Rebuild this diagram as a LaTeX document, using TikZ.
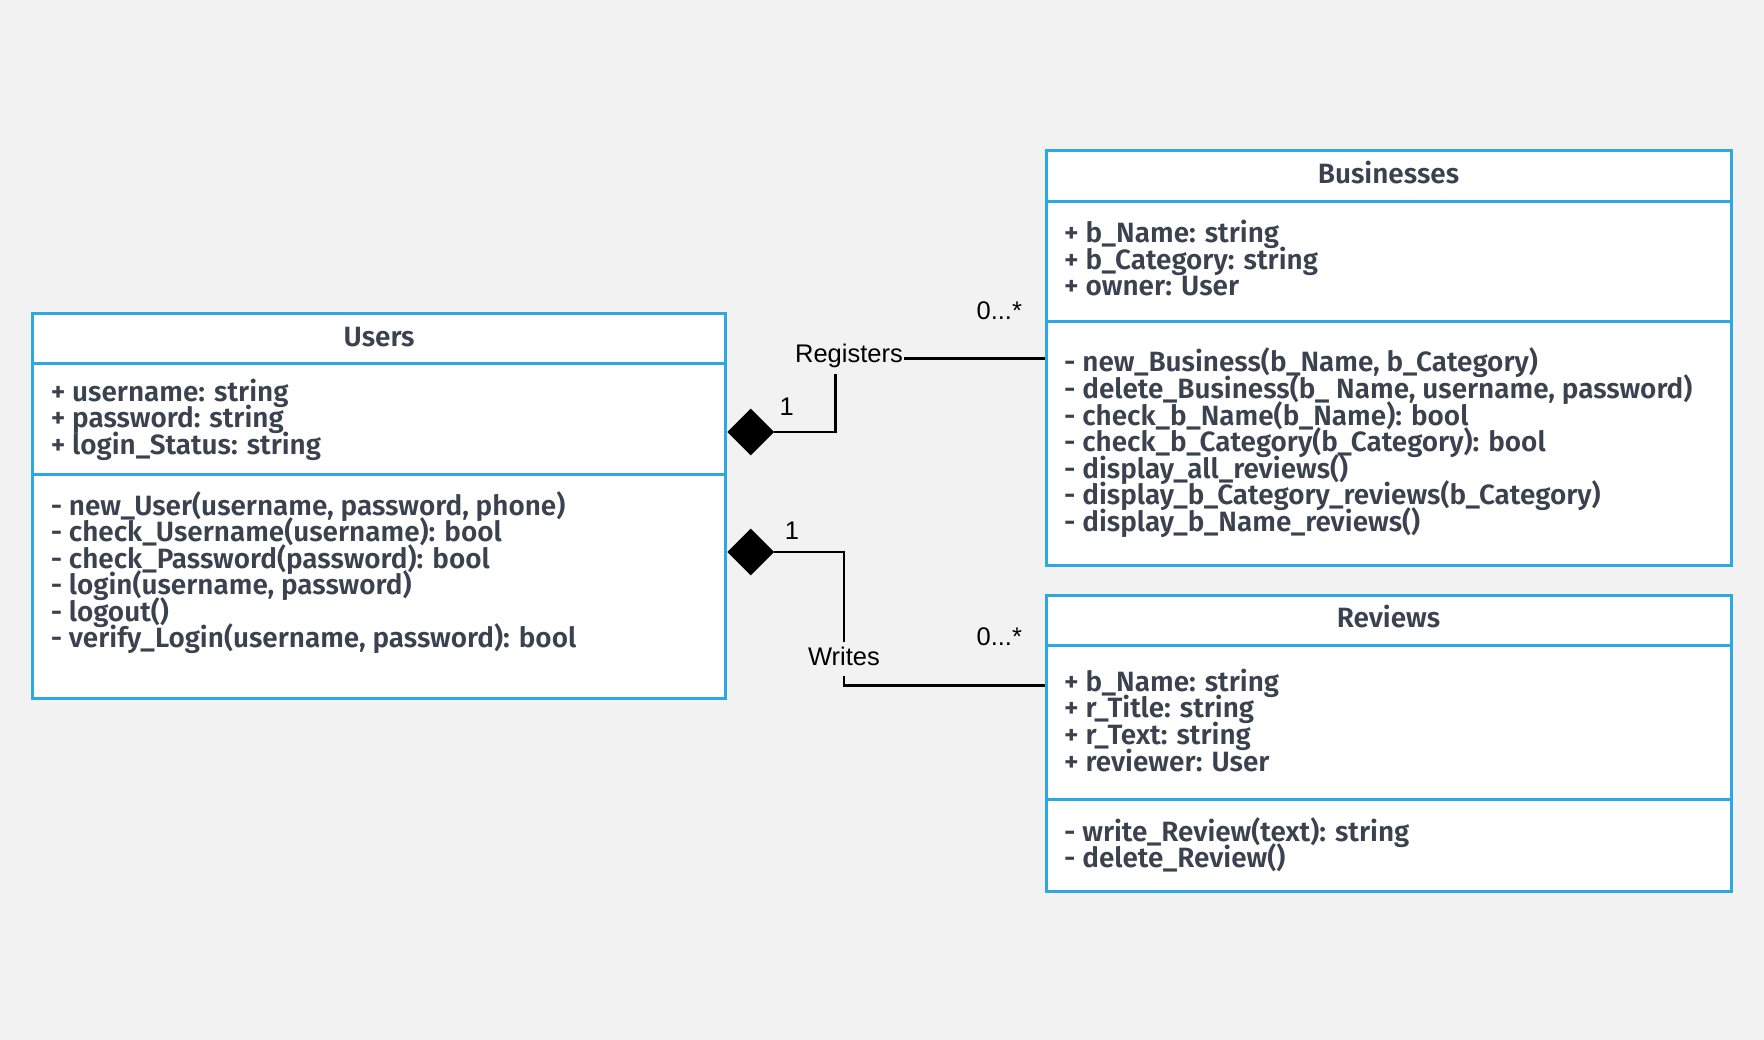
\documentclass[tikz,border=0pt]{standalone}
\usepackage{fontspec}
\usetikzlibrary{shapes.geometric}
\newfontfamily\boxfont{Fira Sans SemiBold}
\newfontfamily\labfont{Liberation Sans}
\definecolor{bg}{RGB}{242,242,242}
\definecolor{umlblue}{RGB}{45,168,224}
\definecolor{umltext}{RGB}{58,66,80}
\pgfdeclarelayer{bgl}
\pgfdeclarelayer{back}
\pgfsetlayers{bgl,back,main}
\begin{document}
\begin{tikzpicture}[x=1pt,y=-1pt,
 classbox/.style={draw=umlblue, line width=3pt, fill=white, inner sep=0pt, outer sep=0pt, anchor=north west},
 divider/.style={draw=umlblue, line width=3pt},
 txt/.style={font=\boxfont\fontsize{27.9}{26.6}\selectfont, text=umltext, inner sep=0pt, anchor=base west},
 ttl/.style={txt, anchor=base},
 conn/.style={line width=2.7pt, draw=black},
 assoc/.style={font=\labfont\fontsize{25.5}{30}\selectfont, fill=bg, inner xsep=1pt, inner ysep=3pt, text height=20pt, text depth=8pt, anchor=base},
 mult/.style={font=\labfont\fontsize{25.5}{30}\selectfont, inner sep=0pt, anchor=base},
 compo/.style={diamond, fill=black, inner sep=0pt, minimum width=47pt, minimum height=47pt, aspect=1}
]
\begin{pgfonlayer}{bgl}
\fill[bg] (0,0) rectangle (1764,1040);
\end{pgfonlayer}
\useasboundingbox (0,0) rectangle (1764,1040);

% class boxes
\node[classbox, minimum width=693pt, minimum height=384pt] (users) at (32.6,314) {};
\draw[divider] (32.6,364) -- (725.6,364);
\draw[divider] (32.6,474) -- (725.6,474);

\node[classbox, minimum width=685pt, minimum height=415pt] (busi) at (1046,150.5) {};
\draw[divider] (1046,201.7) -- (1731,201.7);
\draw[divider] (1046,321.7) -- (1731,321.7);

\node[classbox, minimum width=685pt, minimum height=296pt] (rev) at (1046,595.5) {};
\draw[divider] (1046,645) -- (1731,645);
\draw[divider] (1046,799.3) -- (1731,799.3);

% Users texts
\node[ttl] (ut) at (379.1,346.7) {Users};
\foreach \t [count=\i from 0] in {{+ username: string},{+ password: string},{+ login\_Status: string}}
  \node[txt] (ua\i) at (50.6,{401+\i*26.6}) {\t};
\foreach \t [count=\i from 0] in {{- new\_User(username, password, phone)},{- check\_Username(username): bool},{- check\_Password(password): bool},{- login(username, password)},{- logout()},{- verify\_Login(username, password): bool}}
  \node[txt] (um\i) at (50.6,{515+\i*26.55}) {\t};

% Businesses texts
\node[ttl] (bt) at (1388.5,183.3) {Businesses};
\foreach \t [count=\i from 0] in {{+ b\_Name: string},{+ b\_Category: string},{+ owner: User}}
  \node[txt] (ba\i) at (1064,{242.7+\i*26.65}) {\t};
\foreach \t [count=\i from 0] in {{- new\_Business(b\_Name, b\_Category)},{- delete\_Business(b\_ Name, username, password)},{- check\_b\_Name(b\_Name): bool},{- check\_b\_Category(b\_Category): bool},{- display\_all\_reviews()},{- display\_b\_Category\_reviews(b\_Category)},{- display\_b\_Name\_reviews()}}
  \node[txt] (bm\i) at (1064,{372+\i*26.5}) {\t};

% Reviews texts
\node[ttl] (rt) at (1388.5,627.7) {Reviews};
\foreach \t [count=\i from 0] in {{+ b\_Name: string},{+ r\_Title: string},{+ r\_Text: string},{+ reviewer: User}}
  \node[txt] (ra\i) at (1064,{691+\i*26.67}) {\t};
\foreach \t [count=\i from 0] in {{- write\_Review(text): string},{- delete\_Review()}}
  \node[txt] (rm\i) at (1064,{841+\i*26.7}) {\t};

% composition diamonds
\node[compo] (d1) at (750.7,432) {};
\node[compo] (d2) at (750.7,552) {};

% connectors
\coordinate (r1) at (835.7,358.3);
\coordinate (w1) at (844,685.7);
\begin{pgfonlayer}{back}
\draw[conn] (d1.east) -| (r1) -- (r1 -| busi.west);
\draw[conn] (d2.east) -| (w1) -- (w1 -| rev.west);
\end{pgfonlayer}

% labels
\node[assoc] (rlab) at (849,362.7) {Registers};
\node[assoc] (wlab) at (844,665) {Writes};
\node[mult] (m1) at (786.7,415) {1};
\node[mult] (m2) at (792,539.3) {1};
\node[mult] (m3) at (999.3,320) {0...*};
\node[mult] (m4) at (999.3,645) {0...*};
\end{tikzpicture}
\end{document}
